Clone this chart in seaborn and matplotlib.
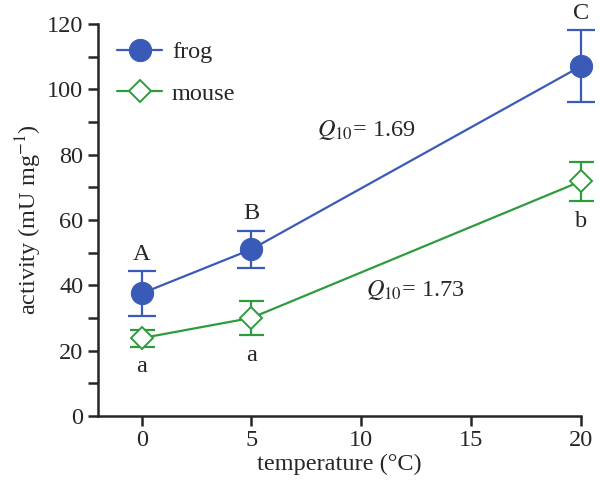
import pandas as pd
import matplotlib.pyplot as plt
import seaborn as sns

temps = [0, 5, 20]
frog_act = [37.5, 51.0, 107.0]
frog_err = [6.8, 5.7, 11.0]
mouse_act = [23.8, 30.0, 71.8]
mouse_err = [2.6, 5.2, 6.0]
frog_letters = ['A', 'B', 'C']
mouse_letters = ['a', 'a', 'b']

blue = '#3A5AB8'
green = '#2E9B3C'

sns.set_style('ticks')
plt.rcParams['font.family'] = ['Liberation Serif', 'DejaVu Serif']
plt.rcParams['mathtext.fontset'] = 'stix'

df = pd.DataFrame({
    'temperature': temps * 2,
    'activity': frog_act + mouse_act,
    'err': frog_err + mouse_err,
    'species': ['frog'] * 3 + ['mouse'] * 3,
})

fig = plt.figure(figsize=(6, 4.87), dpi=100)
ax = fig.add_axes([0.163, 0.146, 0.805, 0.805])

frog = df[df['species'] == 'frog']
mouse = df[df['species'] == 'mouse']

# error bars first, markers drawn on top
ax.errorbar(frog['temperature'], frog['activity'], yerr=frog['err'], fmt='none',
            ecolor=blue, elinewidth=1.6, capsize=10, capthick=1.6, clip_on=False, zorder=2)
ax.errorbar(mouse['temperature'], mouse['activity'], yerr=mouse['err'], fmt='none',
            ecolor=green, elinewidth=1.6, capsize=9, capthick=1.6, clip_on=False, zorder=2)

sns.lineplot(data=frog, x='temperature', y='activity', color=blue, marker='o',
             markersize=16, markeredgecolor=blue, linewidth=1.6, label='frog',
             ax=ax, clip_on=False, zorder=3)
sns.lineplot(data=mouse, x='temperature', y='activity', color=green, marker='D',
             markersize=11.5, markerfacecolor='white', markeredgecolor=green,
             markeredgewidth=1.4, linewidth=1.6, label='mouse', ax=ax,
             clip_on=False, zorder=3)

fs = 17.5
for t, v, e, s in zip(temps, frog_act, frog_err, frog_letters):
    ax.text(t, v + e + 2.0, s, ha='center', va='bottom', fontsize=fs, clip_on=False)
for t, v, e, s in zip(temps, mouse_act, mouse_err, mouse_letters):
    ax.text(t, v - e - 3.0, s, ha='center', va='top', fontsize=fs)

ax.text(8.0, 87.5, r'$Q_{10}$= 1.69', ha='left', va='center', fontsize=fs)
ax.text(10.2, 38.5, r'$Q_{10}$= 1.73', ha='left', va='center', fontsize=fs)

ax.set_xlim(-2, 20)
ax.set_ylim(0, 120)
ax.set_xticks([0, 5, 10, 15, 20])
ax.set_yticks(range(0, 121, 20))
ax.set_yticks(range(10, 120, 20), minor=True)
ax.tick_params(axis='both', which='major', length=7, width=1.8, labelsize=fs, direction='out')
ax.tick_params(axis='y', which='minor', length=7, width=1.8)
for side in ['left', 'bottom']:
    ax.spines[side].set_linewidth(1.8)
sns.despine(ax=ax)

ax.set_xlabel('temperature (°C)', fontsize=fs, labelpad=2)
ax.set_ylabel('activity (mU mg$^{-1}$)', fontsize=fs, labelpad=2)

ax.legend(loc='upper left', bbox_to_anchor=(-0.005, 1.012), frameon=False, fontsize=fs,
          handlelength=1.85, labelspacing=0.8, handletextpad=0.4)

fig.savefig('out.png', dpi=100)
